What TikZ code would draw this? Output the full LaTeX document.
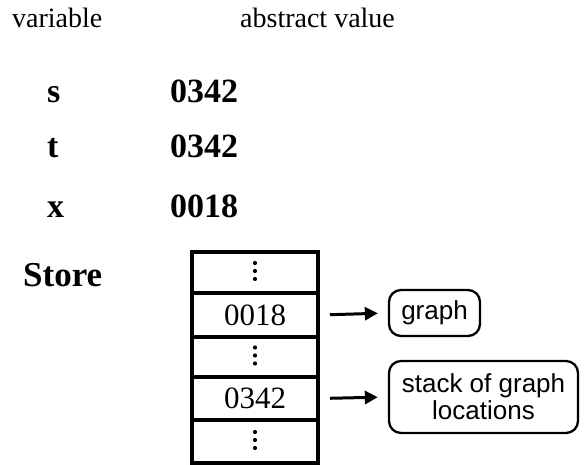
\documentclass[tikz,border=0pt]{standalone}
\usepackage{fontspec}
\setmainfont{Liberation Serif}
\newfontfamily\boxfont{Liberation Sans}
\usetikzlibrary{arrows.meta}
\begin{document}
\begin{tikzpicture}[x=1pt,y=-1pt,
  lbl/.style={anchor=base west,inner sep=0pt,font=\fontsize{28}{30}\selectfont},
  var/.style={anchor=base west,inner sep=0pt,font=\fontsize{34}{38}\selectfont\bfseries},
  cell/.style={draw,line width=4pt,minimum width=126pt,inner sep=0pt,
    font=\fontsize{31}{34}\selectfont},
  tag/.style={draw,line width=2.3pt,rounded corners=12pt,inner sep=0pt,
    align=center,font=\boxfont\fontsize{26}{27}\selectfont},
  link/.style={line width=3pt,-{Triangle[length=13pt,width=13pt]},
    shorten <=10pt,shorten >=10pt},
  dot/.style={fill,circle,inner sep=0pt,minimum size=4.2pt}]
\useasboundingbox (0,0) rectangle (584,465);

% column headings
\node[lbl] (hvar) at (12,28) {variable};
\node[lbl] (hval) at (240,28) {abstract value};

% variables and their values
\node[var] (vs) at (47,103) {s};
\node[var] (as) at (170,103) {0342};
\node[var] (vt) at (47,158) {t};
\node[var] (at) at (170,158) {0342};
\node[var] (vx) at (47,218) {x};
\node[var] (ax) at (170,218) {0018};
\node[var,font=\fontsize{35}{38}\selectfont\bfseries] (store) at (23,287) {Store};

% store cells
\node[cell,minimum height=41pt] (c1) at (255,272.5) {};
\node[cell,minimum height=44pt] (c2) at (255,315) {0018};
\node[cell,minimum height=40pt] (c3) at (255,357) {};
\node[cell,minimum height=43pt] (c4) at (255,398.5) {0342};
\node[cell,minimum height=43pt] (c5) at (255,441.5) {};

% vertical ellipses in the unnamed cells
\foreach \c in {c1,c3,c5}{
  \node[dot] at ([yshift=-6.5pt]\c.center) {};
  \node[dot] at ([yshift=1.5pt]\c.center) {};
  \node[dot] at ([yshift=9.5pt]\c.center) {};
}

% referenced objects
\node[tag,minimum width=91pt,minimum height=46pt] (g) at (434.5,313) {graph};
\node[tag,minimum width=189pt,minimum height=72pt] (sg) at (483.5,397)
  {stack of graph\\locations};

\draw[link] (c2.east) -- (g.west);
\draw[link] (c4.east) -- (sg.west);
\end{tikzpicture}
\end{document}
